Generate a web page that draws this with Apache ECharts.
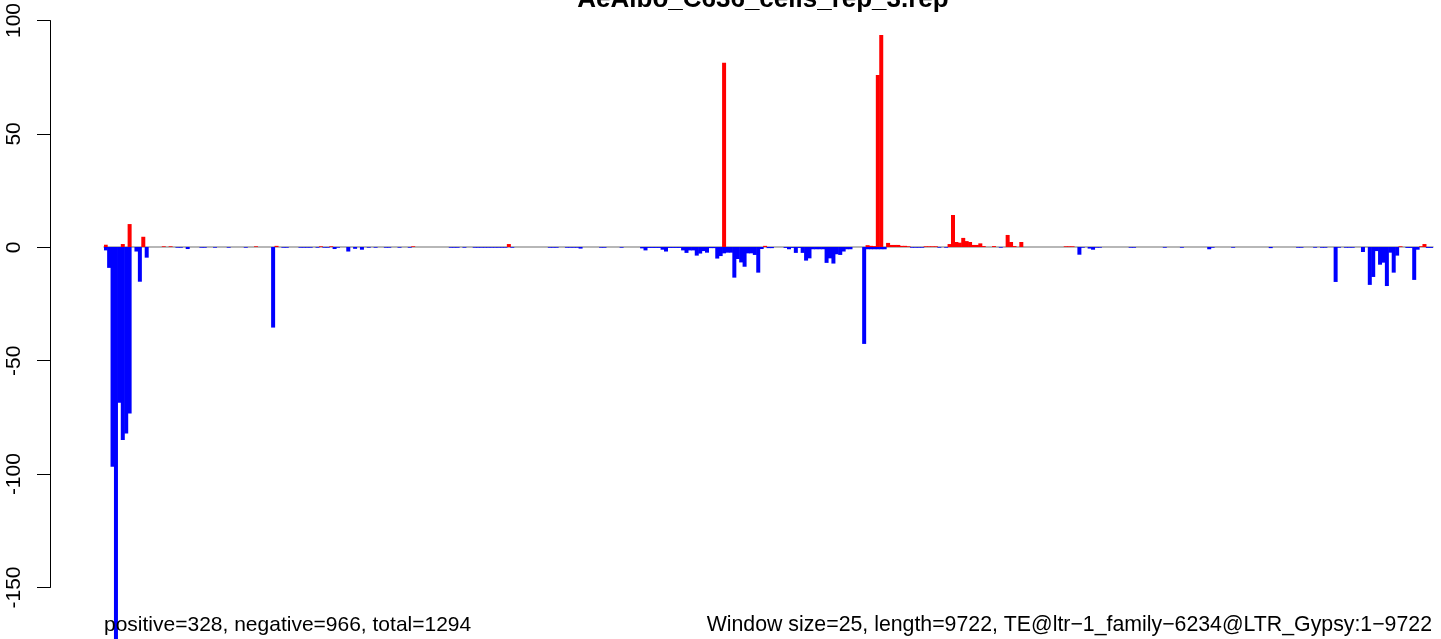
<!DOCTYPE html>
<html>
<head>
<meta charset="utf-8">
<script src="https://cdn.jsdelivr.net/npm/echarts@6/dist/echarts.min.js"></script>
<style>
html,body{margin:0;padding:0;background:#fff;}
#c{width:1441px;height:639px;}
</style>
</head>
<body>
<div id="c"></div>
<script>
// ---- data ----
const titleText = "AeAlbo_C636_cells_rep_3.rep";
const leftNote = "positive=328, negative=966, total=1294";
const rightNote = "Window size=25, length=9722, TE@ltr\u22121_family\u22126234@LTR_Gypsy:1\u22129722";
const windowSize = 25;
const yTickMin = -150, yTickMax = 100, yTickStep = 50;

const positive = [
  1.0,0,0,0,0,1.3,0,10.1,0,0, 0,4.5,0,0,0,0,0,0.3,0,0.3,
  0,0,0,0,0,0,0,0,0,0, 0,0,0,0,0,0,0,0,0,0,
  0,0,0,0,0.3,0,0,0,0,0, 0.5,0,0,0,0,0,0,0,0,0,
  0,0,0,0.3,0,0,0.3,0,0,0, 0,0,0,0,0,0,0,0,0,0,
  0,0,0,0,0,0,0,0,0,0, 0.3,0,0,0,0,0,0,0,0,0,
  0,0,0,0,0,0,0,0,0,0, 0,0,0,0,0,0,0,0,1.3,0,
  0,0,0,0,0,0,0,0,0,0, 0,0,0,0,0,0,0,0,0,0,
  0,0,0,0,0,0,0,0,0,0, 0,0,0,0,0,0,0,0,0,0,
  0,0,0,0,0,0,0,0,0,0, 0,0,0,0,0,0,0,0,0,0,
  0,81.2,0,0,0,0,0,0,0,0, 0,0,0,0.5,0,0,0,0,0,0,
  0,0,0,0,0,0,0,0,0,0, 0,0,0,0,0,0,0,0,0,0,
  0,0,0,0.8,0.5,0.4,75.8,93.4,0,1.8, 0.9,0.9,0.9,0.5,0.5,0.3,0,0,0,0,
  0.3,0.3,0.3,0.3,0,0,0,1.3,14.1,2.2, 1.9,4.0,2.6,2.2,0.9,0.9,1.6,0.4,0,0,
  0.4,0,0,0,5.3,2.2,0.4,0,2.2,0, 0,0,0,0,0,0,0,0,0,0,
  0,0.3,0.3,0.3,0,0,0,0,0,0, 0,0,0,0,0,0,0,0,0,0,
  0,0,0,0,0,0,0,0,0,0, 0,0,0,0,0,0,0,0,0,0,
  0,0,0,0,0,0,0,0,0,0, 0,0,0,0,0,0,0,0,0,0,
  0,0,0,0,0,0,0,0,0,0, 0,0,0,0,0,0,0,0,0,0,
  0,0,0,0,0,0,0,0,0,0, 0,0,0,0,0,0,0,0,0,0.3,
  0,0,0,0,0,0.3,1.3,0,0
];

const negative = [
  -1.5,-9.2,-96.8,-175,-68.6,-85,-82.2,-73.4,0,-2.0, -15.3,0,-4.7,0,0,0,0,0,0,0,
  0,-0.3,-0.3,0,-0.9,0,0,0,-0.3,-0.3, 0,0,-0.3,0,0,0,-0.3,0,0,0,
  0,-0.3,0,0,0,0,0,0,0,-35.5, 0,0,-0.3,-0.3,0,0,0,-0.3,-0.3,-0.3,
  -0.3,0,-0.3,0,-0.3,-0.3,0,-0.9,-0.3,0, 0,-2.0,0,-0.8,0,-1.2,0,-0.3,0,-0.3,
  0,0,-0.3,-0.3,0,0,-0.3,0,0,-0.3, 0,0,0,0,0,0,0,0,0,0,
  0,-0.3,-0.3,-0.3,0,-0.3,0,0,-0.3,-0.3, -0.3,-0.3,-0.3,-0.3,-0.3,-0.3,-0.3,-0.3,0,-0.3,
  0,0,0,0,0,0,0,0,0,0, -0.3,-0.3,-0.3,0,0,-0.3,-0.3,-0.3,-0.3,-0.7,
  0,0,0,0,0,-0.3,-0.3,0,0,0, 0,-0.3,0,0,0,0,0,-0.6,-1.5,-0.4,
  -0.4,-0.4,-0.4,-1.2,-2.0,-0.4,-0.4,-0.4,-0.4,-1.5, -2.6,-1.5,-1.5,-3.8,-2.9,-1.8,-2.5,-0.5,-0.5,-5.1,
  -4.0,-2.8,-2.5,-2.5,-13.5,-5.3,-6.8,-8.7,-2.8,-2.8, -3.5,-11.3,-0.9,0,-0.5,-0.5,0,0,0,-0.4,
  -1.0,-0.4,-2.6,-0.4,-2.6,-6.0,-5.0,-1.0,-1.0,-1.0, -1.0,-7.0,-5.0,-7.3,-3.2,-3.5,-2.0,-1.0,-1.0,0,
  0,0,-42.7,-1.0,-1.0,-1.0,-1.0,-1.0,-1.0,0, 0,0,0,0,0,0,-0.3,-0.3,-0.3,-0.3,
  0,0,0,0,-0.3,0,-0.3,0,0,0, 0,0,0,0,0,0,0,0,0,0,
  0,0,-0.3,0,0,0,0,0,0,0, 0,0,0,0,0,0,0,0,0,0,
  0,0,0,0,0,-3.4,-0.3,0,-0.7,-1.2, -0.3,-0.3,0,0,0,0,0,0,0,0,
  -0.3,-0.3,0,0,0,0,0,0,0,0, -0.3,0,0,0,0,-0.3,0,0,0,0,
  0,0,0,-1.0,-0.3,0,0,0,0,0, -0.3,0,0,0,0,0,0,0,0,0,
  0,-0.5,0,0,0,0,0,0,0,-0.3, -0.3,0,0,0,-0.3,0,-0.3,-0.3,0,0,
  -15.4,-0.3,0,-0.3,-0.3,-0.3,0,0,-2.2,0, -16.7,-13.2,-1.8,-7.8,-6.9,-17.2,-2.5,-11.3,-3.8,0,
  0,-0.4,-0.4,-14.5,-1.2,0,0,-0.4,-0.4
];

const windows = positive.map((_, i) => String(i * windowSize + 1));

// ---- chart ----
const FONT = '"Liberation Sans", Arial, Helvetica, sans-serif';
const chart = echarts.init(document.getElementById('c'), null, {renderer: 'canvas'});

const option = {
  animation: false,
  backgroundColor: '#ffffff',
  grid: [
    {left: 50, top: 20, width: 1, height: 567.5},
    {left: 104, top: 20, width: 1329, height: 619}
  ],
  xAxis: [
    {gridIndex: 0, type: 'value', show: false},
    {
      gridIndex: 1, type: 'category', data: windows,
      axisLine: {show: true, onZero: true, lineStyle: {color: '#a0a0a0', width: 1.5}},
      axisTick: {show: false}, axisLabel: {show: false}, splitLine: {show: false}
    }
  ],
  yAxis: [
    {
      gridIndex: 0, type: 'value', min: yTickMin, max: yTickMax, interval: yTickStep,
      axisLine: {show: true, lineStyle: {color: '#000', width: 1}},
      axisTick: {show: true, inside: false, length: 13, lineStyle: {color: '#000', width: 1}},
      axisLabel: {rotate: 90, margin: 25, fontSize: 21, color: '#000', fontFamily: FONT},
      splitLine: {show: false}
    },
    {gridIndex: 1, type: 'value', min: -172.7, max: 100, show: false, splitLine: {show: false}}
  ],
  series: [
    {
      name: 'positive', type: 'bar', xAxisIndex: 1, yAxisIndex: 1,
      data: positive, barWidth: 4, barGap: '-100%',
      itemStyle: {color: '#ff0000'}, z: 3
    },
    {
      name: 'negative', type: 'bar', xAxisIndex: 1, yAxisIndex: 1,
      data: negative, barWidth: 4, barGap: '-100%',
      itemStyle: {color: '#0000ff'}, z: 3
    }
  ],
  graphic: [
    {type: 'text', x: 763, y: 0, z: 100,
     style: {text: titleText, font: 'bold 26px ' + FONT, fill: '#000', textAlign: 'center', textVerticalAlign: 'middle'}},
    {type: 'text', x: 104, y: 625, z: 100,
     style: {text: leftNote, font: '21px ' + FONT, fill: '#000', textAlign: 'left', textVerticalAlign: 'middle'}},
    {type: 'text', x: 1432, y: 625, z: 100,
     style: {text: rightNote, font: '21.3px ' + FONT, fill: '#000', textAlign: 'right', textVerticalAlign: 'middle'}}
  ]
};
chart.setOption(option);
</script>
</body>
</html>
